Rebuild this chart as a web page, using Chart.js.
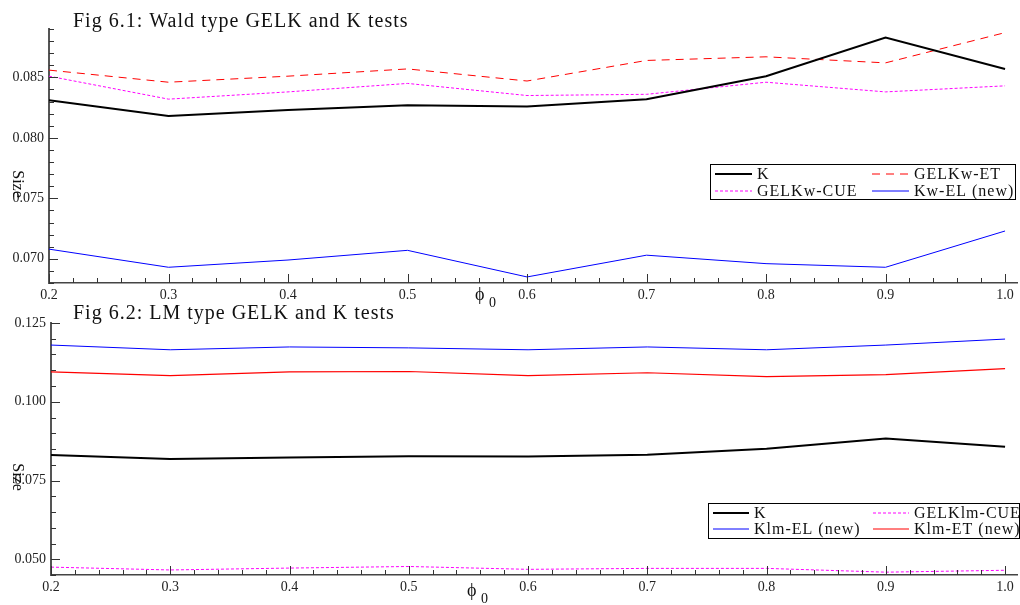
<!DOCTYPE html>
<html><head><meta charset="utf-8">
<script src="https://cdn.jsdelivr.net/npm/chart.js@4.4.0/dist/chart.umd.min.js"></script>
<style>
html,body{margin:0;padding:0;background:#fff;width:1020px;height:605px;overflow:hidden;}
#c1{position:absolute;left:0;top:0;}
#c2{position:absolute;left:0;top:300px;}
</style></head><body>
<canvas id="c1" width="1020" height="310"></canvas>
<canvas id="c2" width="1020" height="305"></canvas>
<script>
// ---- data ----
const phi = [0.2, 0.3, 0.4, 0.5, 0.6, 0.7, 0.8, 0.9, 1.0];
const xTickLabels = [0.2, 0.3, 0.4, 0.5, 0.6, 0.7, 0.8, 0.9, 1.0];

// Fig 6.1 (Wald type)
const sizeK        = [0.0831, 0.0818, 0.0823, 0.0827, 0.0826, 0.0832, 0.0851, 0.0883, 0.0857];
const sizeGELKwET  = [0.0856, 0.0846, 0.0851, 0.0857, 0.0847, 0.0864, 0.0867, 0.0862, 0.0887];
const sizeGELKwCUE = [0.0851, 0.0832, 0.0838, 0.0845, 0.0835, 0.0836, 0.0846, 0.0838, 0.0843];
const sizeKwEL     = [0.0708, 0.0693, 0.0699, 0.0707, 0.0685, 0.0703, 0.0696, 0.0693, 0.0723];
const yTicksTop    = [0.070, 0.075, 0.080, 0.085];

// Fig 6.2 (LM type)
const sizeGELKlmCUE = [0.0475, 0.0466, 0.0472, 0.0477, 0.0468, 0.0471, 0.0471, 0.0459, 0.0465];
const sizeKlmEL     = [0.1180, 0.1165, 0.1174, 0.1171, 0.1165, 0.1174, 0.1165, 0.1180, 0.1199];
const sizeKlmET     = [0.1095, 0.1083, 0.1095, 0.1096, 0.1083, 0.1092, 0.1080, 0.1086, 0.1105];
const yTicksBottom  = [0.050, 0.075, 0.100, 0.125];

const pts = arr => arr.map((v, i) => ({x: phi[i], y: v}));
const SERIF = '"Liberation Serif", "Times New Roman", serif';

const decor = {
  id: 'decor',
  afterDraw(chart, args, o) {
    const ctx = chart.ctx, xs = chart.scales.x, ys = chart.scales.y, a = chart.chartArea;
    ctx.save();
    ctx.strokeStyle = '#333';
    ctx.lineWidth = 1;
    // x ticks (inside)
    for (let i = 0; i <= 40; i++) {
      const v = 0.2 + i * 0.02;
      const px = Math.round(xs.getPixelForValue(v)) + 0.5;
      const len = (i % 5 === 0) ? 9 : 5;
      ctx.beginPath(); ctx.moveTo(px, a.bottom); ctx.lineTo(px, a.bottom - len); ctx.stroke();
    }
    // y ticks (inside)
    const n = Math.round((o.yMax - o.yMin) / o.yMinor);
    for (let i = 0; i <= n; i++) {
      const v = o.yMin + i * o.yMinor;
      const py = Math.round(ys.getPixelForValue(v)) + 0.5;
      const major = o.yMajor.some(m => Math.abs(m - v) < 1e-9);
      const len = major ? 9 : 5;
      ctx.beginPath(); ctx.moveTo(a.left, py); ctx.lineTo(a.left + len, py); ctx.stroke();
    }
    // title
    ctx.fillStyle = '#111';
    ctx.font = '20px ' + SERIF;
    ctx.letterSpacing = '1px';
    ctx.textBaseline = 'alphabetic';
    ctx.textAlign = 'left';
    ctx.fillText(o.title, o.titleX, o.titleY);
    // y label "Size"
    ctx.save();
    ctx.font = '16px ' + SERIF;
    ctx.letterSpacing = '0px';
    ctx.translate(o.sizeX, o.sizeY);
    ctx.rotate(Math.PI / 2);
    ctx.textAlign = 'center'; ctx.textBaseline = 'middle';
    ctx.fillText('Size', 0, 0);
    ctx.restore();
    // x label phi_0
    ctx.letterSpacing = '0px';
    ctx.textAlign = 'left'; ctx.textBaseline = 'alphabetic';
    ctx.font = '18px ' + SERIF;
    ctx.fillText('\u03D5', o.phiX, o.phiY);
    ctx.font = '14px ' + SERIF;
    ctx.fillText('0', o.phiX + 14, o.phiY + 7);
    // legend
    const L = o.legend;
    ctx.fillStyle = '#fff';
    ctx.fillRect(L.x, L.y, L.w, L.h);
    ctx.strokeStyle = '#000'; ctx.lineWidth = 1;
    ctx.strokeRect(L.x + 0.5, L.y + 0.5, L.w, L.h);
    ctx.font = '16px ' + SERIF;
    ctx.letterSpacing = '1px';
    ctx.textBaseline = 'middle';
    chart.data.datasets.forEach((ds, i) => {
      const col = i % 2, row = Math.floor(i / 2);
      const lx = L.x + L.colX[col], ly = L.y + L.rowY[row];
      ctx.save();
      ctx.strokeStyle = ds.borderColor;
      ctx.lineWidth = ds.borderWidth;
      ctx.setLineDash(ds.borderDash || []);
      ctx.beginPath(); ctx.moveTo(lx, ly); ctx.lineTo(lx + L.lineW, ly); ctx.stroke();
      ctx.restore();
      ctx.fillStyle = '#111';
      ctx.fillText(ds.label, lx + L.lineW + 5, ly + 1);
    });
    ctx.restore();
  }
};

function makeOptions(yMin, yMax, yTicks, padTop, xHeight, yWidth, decorOpts) {
  return {
    responsive: false,
    animation: false,
    layout: {padding: {left: 0, top: padTop, right: 3, bottom: 0}},
    plugins: {legend: {display: false}, tooltip: {enabled: false}, title: {display: false}, decor: decorOpts},
    elements: {point: {radius: 0}, line: {tension: 0}},
    scales: {
      x: {
        type: 'linear', min: 0.2, max: 1.01,
        grid: {display: false, drawTicks: false, tickLength: 0},
        border: {display: true, color: '#444', width: 1.5},
        afterBuildTicks: s => { s.ticks = xTickLabels.map(v => ({value: v})); },
        afterFit: s => { s.height = xHeight; },
        ticks: {padding: 4, maxRotation: 0, autoSkip: false, color: '#222',
                font: {family: SERIF, size: 14}, callback: v => Number(v).toFixed(1)}
      },
      y: {
        type: 'linear', min: yMin, max: yMax,
        grid: {display: false, drawTicks: false, tickLength: 0},
        border: {display: true, color: '#555', width: 2},
        afterBuildTicks: s => { s.ticks = yTicks.map(v => ({value: v})); },
        afterFit: s => { s.width = yWidth; },
        ticks: {padding: 5, color: '#222', font: {family: SERIF, size: 14},
                callback: v => Number(v).toFixed(3)}
      }
    }
  };
}

new Chart(document.getElementById('c1'), {
  type: 'line',
  data: {datasets: [
    {label: 'K', data: pts(sizeK), borderColor: '#000000', borderWidth: 2},
    {label: 'GELKw-ET', data: pts(sizeGELKwET), borderColor: '#ff0000', borderWidth: 1, borderDash: [8, 6]},
    {label: 'GELKw-CUE', data: pts(sizeGELKwCUE), borderColor: '#ff00ff', borderWidth: 1, borderDash: [3, 2]},
    {label: 'Kw-EL (new)', data: pts(sizeKwEL), borderColor: '#0000ff', borderWidth: 1}
  ]},
  options: makeOptions(0.068, 0.089, yTicksTop, 29, 27, 49, {
    title: 'Fig 6.1: Wald type GELK and K tests', titleX: 73, titleY: 27,
    sizeX: 17, sizeY: 184, phiX: 475, phiY: 300,
    yMin: 0.068, yMax: 0.089, yMinor: 0.001, yMajor: yTicksTop,
    legend: {x: 710, y: 164, w: 305, h: 35, colX: [5, 162], rowY: [10, 27], lineW: 37}
  }),
  plugins: [decor]
});

new Chart(document.getElementById('c2'), {
  type: 'line',
  data: {datasets: [
    {label: 'K', data: pts(sizeK), borderColor: '#000000', borderWidth: 2},
    {label: 'GELKlm-CUE', data: pts(sizeGELKlmCUE), borderColor: '#ff00ff', borderWidth: 1, borderDash: [3, 2]},
    {label: 'Klm-EL (new)', data: pts(sizeKlmEL), borderColor: '#0000ff', borderWidth: 1},
    {label: 'Klm-ET (new)', data: pts(sizeKlmET), borderColor: '#ff0000', borderWidth: 1.2}
  ]},
  options: makeOptions(0.045, 0.125, yTicksBottom, 23, 30, 51, {
    title: 'Fig 6.2: LM type GELK and K tests', titleX: 73, titleY: 19,
    sizeX: 17, sizeY: 177, phiX: 467, phiY: 296,
    yMin: 0.045, yMax: 0.125, yMinor: 0.005, yMajor: yTicksBottom,
    legend: {x: 708, y: 203, w: 311, h: 35, colX: [5, 165], rowY: [10, 26], lineW: 36}
  }),
  plugins: [decor]
});
</script>
</body></html>
